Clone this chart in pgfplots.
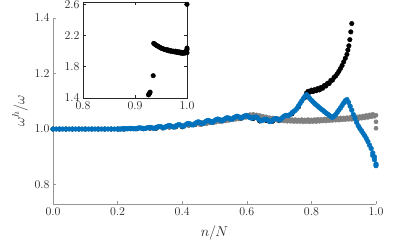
\documentclass[border=0pt]{standalone}
\usepackage{pgfplots}
\pgfplotsset{compat=1.18}
\definecolor{mblue}{RGB}{0,114,189}
\definecolor{mgrey}{RGB}{128,128,128}
\definecolor{axgrey}{RGB}{150,150,150}
\definecolor{txt}{RGB}{38,38,38}
\begin{document}
\begin{tikzpicture}[x=1bp,y=1bp]
\useasboundingbox (0,0) rectangle (415,243);
\begin{axis}[
  at={(53bp,39bp)}, anchor=south west,
  scale only axis, width=323bp, height=186bp,
  xmin=0, xmax=1, ymin=0.73, ymax=1.4,
  axis lines=left, axis line style={-,axgrey,line width=0.6pt},
  tick align=inside, major tick length=3bp, tick style={axgrey,line width=0.6pt},
  xtick={0,0.2,0.4,0.6,0.8,1.0}, ytick={0.8,1.0,1.2,1.4},
  xticklabel style={/pgf/number format/.cd,fixed,fixed zerofill,precision=1},
  yticklabel style={/pgf/number format/.cd,fixed,fixed zerofill,precision=1},
  ticklabel style={font=\fontsize{11.5}{13}\selectfont, text=txt},
  xlabel={$n/N$}, ylabel={$\omega^h/\omega$},
  label style={font=\fontsize{14.5}{16}\selectfont, text=txt},
  xlabel style={at={(axis description cs:0.5,-0.156)},anchor=center},
  ylabel style={at={(axis description cs:-0.102,0.5)},anchor=center},
  every axis plot/.append style={only marks, mark=*},
]
% black series
\addplot[black, mark size=2.3pt] coordinates {
(0,1)(0.02,1)(0.04,1)(0.06,1)(0.08,1)(0.10,1)(0.12,1)(0.14,1)(0.16,1)(0.18,1)(0.20,1)
(0.22,1.000)(0.24,1.001)(0.26,1.001)(0.28,1.001)(0.30,1.003)(0.32,1.003)(0.34,1.004)(0.36,1.007)(0.38,1.008)(0.40,1.008)
(0.42,1.014)(0.44,1.016)(0.46,1.018)(0.48,1.026)(0.50,1.026)(0.52,1.029)(0.54,1.036)(0.56,1.037)(0.58,1.038)(0.60,1.044)
(0.62,1.038)(0.64,1.029)(0.66,1.031)(0.68,1.028)(0.70,1.030)(0.72,1.045)(0.74,1.055)(0.76,1.080)(0.78,1.114)
(0.785,1.130)(0.79,1.136)(0.795,1.133)(0.80,1.140)(0.805,1.135)(0.81,1.142)(0.815,1.138)(0.82,1.146)(0.825,1.141)
(0.83,1.150)(0.835,1.147)(0.84,1.157)(0.845,1.155)(0.85,1.165)(0.855,1.164)(0.86,1.175)(0.865,1.176)(0.87,1.186)
(0.875,1.191)(0.88,1.199)(0.885,1.208)(0.89,1.218)(0.895,1.229)(0.90,1.242)(0.905,1.255)(0.91,1.269)(0.913,1.285)
(0.916,1.300)(0.919,1.322)(0.922,1.350)(0.925,1.380)
(0.926,1.44)(0.927,1.45)(0.928,1.46)(0.929,1.47)(0.935,1.686)(0.936,2.10)
};
% grey series
\addplot[mgrey, mark size=2.1pt] coordinates {
(0,1)(0.02,1)(0.04,1)(0.06,1)(0.08,1)(0.10,1)(0.12,1)(0.14,1)(0.16,1)(0.18,1)(0.20,1)
(0.22,1.000)(0.24,1.001)(0.26,1.001)(0.28,1.002)(0.30,1.003)(0.32,1.004)(0.34,1.005)(0.36,1.007)(0.38,1.009)(0.40,1.011)
(0.42,1.013)(0.44,1.016)
(0.450,1.020)(0.455,1.016)(0.460,1.024)(0.465,1.020)(0.470,1.025)(0.475,1.019)(0.480,1.025)(0.485,1.022)(0.490,1.028)(0.495,1.022)
(0.500,1.029)(0.505,1.025)(0.510,1.031)(0.515,1.027)(0.520,1.033)(0.525,1.028)(0.530,1.034)(0.535,1.029)(0.540,1.036)(0.545,1.031)
(0.550,1.037)(0.555,1.033)(0.560,1.039)(0.565,1.035)(0.570,1.041)(0.575,1.036)(0.580,1.043)(0.585,1.039)(0.590,1.046)(0.595,1.042)
(0.600,1.050)(0.605,1.045)(0.610,1.052)(0.615,1.047)(0.620,1.053)(0.625,1.046)(0.630,1.051)(0.635,1.045)(0.640,1.049)(0.645,1.042)
(0.650,1.046)(0.655,1.039)(0.660,1.044)(0.665,1.037)(0.670,1.041)(0.675,1.035)(0.680,1.040)(0.685,1.033)(0.690,1.038)(0.695,1.031)
(0.700,1.037)(0.705,1.030)(0.710,1.036)(0.715,1.029)(0.720,1.035)(0.725,1.028)(0.730,1.035)(0.735,1.028)(0.740,1.034)(0.745,1.027)
(0.750,1.034)(0.755,1.027)(0.760,1.033)(0.765,1.027)(0.770,1.034)(0.775,1.026)(0.780,1.033)(0.785,1.027)(0.790,1.034)(0.795,1.026)
(0.800,1.033)(0.805,1.027)(0.810,1.034)(0.815,1.027)(0.820,1.035)(0.825,1.028)(0.830,1.035)(0.835,1.029)(0.840,1.036)(0.845,1.029)
(0.850,1.037)(0.855,1.030)(0.860,1.037)(0.865,1.031)(0.870,1.038)(0.875,1.032)(0.880,1.039)(0.885,1.032)(0.890,1.040)(0.895,1.033)
(0.900,1.040)(0.905,1.034)(0.910,1.041)(0.915,1.035)(0.920,1.042)(0.925,1.035)(0.930,1.043)(0.935,1.036)(0.940,1.044)(0.945,1.037)
(0.950,1.045)(0.955,1.039)(0.960,1.047)(0.965,1.040)(0.970,1.049)(0.975,1.042)(0.980,1.051)(0.985,1.044)(0.990,1.053)(0.995,1.046)
(1.000,1.050)(1.000,1.026)(1.000,1.003)
};
% blue series
\addplot[mblue, mark size=2.4pt] coordinates {
(0,1)(0.01,1)(0.02,1)(0.03,1)(0.04,1)(0.05,1)(0.06,1)(0.07,1)(0.08,1)(0.09,1)(0.10,1)
(0.11,1)(0.12,1)(0.13,1)(0.14,1)(0.15,1)(0.16,1)(0.17,1)(0.18,1)(0.19,1)
(0.200,1.000)(0.205,1.000)(0.210,1.000)(0.215,1.001)(0.220,1.001)(0.225,1.001)(0.230,1.001)(0.235,1.002)(0.240,1.002)(0.245,1.002)
(0.250,1.001)(0.255,1.001)(0.260,1.002)(0.265,1.004)(0.270,1.004)(0.275,1.003)(0.280,1.002)(0.285,1.002)(0.290,1.004)(0.295,1.005)
(0.300,1.006)(0.305,1.005)(0.310,1.003)(0.315,1.003)(0.320,1.006)(0.325,1.008)(0.330,1.009)(0.335,1.008)(0.340,1.005)(0.345,1.005)
(0.350,1.009)(0.355,1.011)(0.360,1.013)(0.365,1.011)(0.370,1.008)(0.375,1.007)(0.380,1.011)(0.385,1.014)(0.390,1.016)(0.395,1.014)
(0.400,1.010)(0.405,1.010)(0.410,1.015)(0.415,1.019)(0.420,1.020)(0.425,1.018)(0.430,1.015)(0.435,1.015)(0.440,1.020)(0.445,1.024)
(0.450,1.026)(0.455,1.023)(0.460,1.020)(0.465,1.020)(0.470,1.025)(0.475,1.029)(0.480,1.031)(0.485,1.029)(0.490,1.025)(0.495,1.025)
(0.500,1.030)(0.505,1.034)(0.510,1.036)(0.515,1.034)(0.520,1.031)(0.525,1.030)(0.530,1.035)(0.535,1.039)(0.540,1.041)(0.545,1.039)
(0.550,1.036)(0.555,1.036)(0.560,1.041)(0.565,1.044)(0.570,1.046)(0.575,1.044)(0.580,1.041)(0.585,1.040)(0.590,1.045)(0.595,1.048)
(0.600,1.049)(0.605,1.045)(0.610,1.041)(0.615,1.039)(0.620,1.042)(0.625,1.043)(0.630,1.043)(0.635,1.038)(0.640,1.032)(0.645,1.030)
(0.650,1.032)(0.655,1.035)(0.660,1.035)(0.665,1.032)(0.670,1.027)(0.675,1.027)(0.680,1.032)(0.685,1.036)(0.690,1.038)(0.695,1.036)
(0.700,1.033)(0.705,1.034)(0.710,1.041)(0.715,1.046)(0.720,1.049)(0.725,1.049)(0.730,1.049)(0.735,1.053)(0.740,1.059)(0.745,1.063)
(0.750,1.067)(0.755,1.074)(0.760,1.083)(0.765,1.092)(0.770,1.101)(0.775,1.110)(0.780,1.118)
(0.785,1.124)(0.79,1.118)(0.795,1.110)
(0.80,1.104)(0.805,1.098)(0.81,1.092)(0.815,1.087)(0.82,1.082)(0.825,1.077)(0.83,1.072)(0.835,1.068)(0.84,1.063)
(0.845,1.058)(0.85,1.054)(0.855,1.050)(0.86,1.046)(0.865,1.042)(0.87,1.046)(0.875,1.052)(0.88,1.060)(0.885,1.068)
(0.89,1.076)(0.895,1.085)(0.90,1.094)(0.905,1.102)(0.91,1.106)(0.915,1.096)(0.92,1.082)(0.925,1.068)(0.93,1.052)
(0.935,1.038)(0.94,1.024)(0.945,1.012)(0.95,1.002)(0.955,0.994)(0.96,0.985)(0.965,0.976)(0.97,0.966)(0.975,0.955)
(0.98,0.942)(0.985,0.930)(0.99,0.914)(0.995,0.900)(1.00,0.874)(0.99,0.905)(0.995,0.890)(1.00,0.868)
};
\end{axis}
\begin{axis}[
  at={(83bp,145bp)}, anchor=south west,
  scale only axis, width=104bp, height=96bp,
  xmin=0.8, xmax=1.0, ymin=1.4, ymax=2.63,
  axis background/.style={fill=white},
  axis line style={black!85,line width=0.6pt},
  tick align=inside, major tick length=3bp, tick style={black!85,line width=0.6pt},
  xtick={0.8,0.9,1.0}, ytick={1.4,1.8,2.2,2.6},
  xticklabel style={/pgf/number format/.cd,fixed,fixed zerofill,precision=1},
  yticklabel style={/pgf/number format/.cd,fixed,fixed zerofill,precision=1},
  ticklabel style={font=\fontsize{11.5}{13}\selectfont, text=txt},
  every axis plot/.append style={only marks, mark=*},
]
\addplot[black, mark size=2.3pt] coordinates {
(0.926,1.44)(0.927,1.45)(0.928,1.46)(0.929,1.475)(0.935,1.686)
(0.936,2.10)(0.938,2.09)(0.940,2.08)(0.942,2.07)(0.944,2.065)(0.946,2.055)(0.948,2.05)(0.950,2.04)
(0.952,2.035)(0.954,2.03)(0.956,2.025)(0.958,2.02)(0.960,2.015)(0.962,2.02)(0.964,2.005)(0.966,2.01)
(0.968,2.0)(0.970,2.005)(0.972,1.995)(0.974,2.0)(0.976,1.99)(0.978,2.0)(0.980,1.985)(0.982,1.995)
(0.984,1.98)(0.986,1.99)(0.988,1.975)(0.990,1.985)(0.992,1.97)(0.994,1.985)(0.996,1.975)(0.998,2.0)
(1.0,2.04)(1.0,2.02)(1.0,1.98)(1.0,2.6)
};
\end{axis}
\end{tikzpicture}
\end{document}
